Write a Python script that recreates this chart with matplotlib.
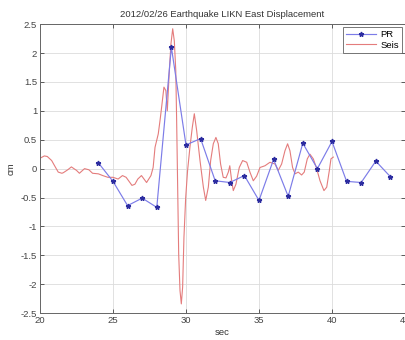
import matplotlib

matplotlib.use("Agg")
import matplotlib.pyplot as plt
from matplotlib.ticker import FormatStrFormatter, MultipleLocator

# PR displacement, one sample per second
pr_t = [24, 25, 26, 27, 28, 29, 30, 31, 32, 33, 34, 35, 36, 37, 38, 39, 40, 41, 42, 43, 44]
pr_cm = [0.10, -0.22, -0.64, -0.51, -0.67, 2.10, 0.41, 0.52, -0.21, -0.24, -0.12,
         -0.55, 0.16, -0.48, 0.44, 0.00, 0.47, -0.22, -0.24, 0.13, -0.14]

# seismometer-derived displacement
seis_t = [20.0, 20.3, 20.5, 20.8, 21.0, 21.25, 21.5, 21.6, 21.9, 22.15, 22.5, 22.7,
          23.05, 23.35, 23.6, 24.0, 24.3, 24.65, 25.0, 25.35, 25.65, 25.9, 26.1,
          26.3, 26.5, 26.7, 26.95, 27.3, 27.6, 27.75, 27.88, 28.1, 28.22, 28.33,
          28.49, 28.62, 28.72, 28.86, 28.97, 29.09, 29.2, 29.3, 29.36, 29.43, 29.5,
          29.59, 29.68, 29.77, 29.86, 29.98, 30.11, 30.27, 30.43, 30.57, 30.73,
          30.96, 31.19, 31.35, 31.53, 31.69, 31.87, 32.05, 32.21, 32.37, 32.55,
          32.74, 32.9, 33.0, 33.13, 33.24, 33.42, 33.65, 33.88, 34.16, 34.38,
          34.61, 34.84, 35.07, 35.41, 35.75, 36.1, 36.32, 36.55, 36.78, 36.96,
          37.12, 37.3, 37.47, 37.69, 37.92, 38.1, 38.31, 38.49, 38.72, 38.95,
          39.18, 39.45, 39.64, 39.82, 39.93, 40.09]
seis_cm = [0.18, 0.22, 0.21, 0.14, 0.05, -0.06, -0.08, -0.07, -0.02, 0.03, -0.03,
           -0.08, 0.00, -0.02, -0.08, -0.09, -0.12, -0.15, -0.15, -0.18, -0.12,
           -0.15, -0.22, -0.29, -0.27, -0.18, -0.12, -0.24, -0.12, 0.02, 0.37,
           0.60, 0.83, 1.06, 1.41, 1.35, 1.00, 1.70, 2.16, 2.42, 2.21, 1.70, 0.83,
           -0.32, -1.48, -2.11, -2.34, -2.05, -1.19, -0.50, -0.03, 0.37, 0.71,
           0.95, 0.66, 0.14, -0.32, -0.55, -0.32, 0.14, 0.43, 0.54, 0.43, 0.08,
           -0.15, -0.16, -0.06, 0.05, -0.21, -0.38, -0.27, 0.02, 0.14, 0.11, -0.06,
           -0.21, -0.13, 0.02, 0.05, 0.11, 0.08, -0.03, 0.08, 0.31, 0.43, 0.31,
           0.02, -0.09, -0.06, -0.11, -0.06, 0.17, 0.25, 0.17, 0.00, -0.21, -0.38,
           -0.32, -0.03, 0.17, 0.20]

plt.rcParams["font.family"] = ["Liberation Sans", "DejaVu Sans"]

fig = plt.figure(figsize=(4.06, 3.40), dpi=100)
ax = fig.add_axes([0.0985, 0.079, 0.899, 0.850])

ax.plot(pr_t, pr_cm, color="#7c7ce8", linewidth=0.85, marker="*",
        markersize=3.5, markerfacecolor="#2c2ca0", markeredgecolor="#2c2ca0",
        label="PR", zorder=3)
ax.plot(seis_t, seis_cm, color="#e47c7c", linewidth=0.8, label="Seis", zorder=2)

ax.set_xlim(20, 45)
ax.set_ylim(-2.5, 2.5)
ax.xaxis.set_major_locator(MultipleLocator(5))
ax.yaxis.set_major_locator(MultipleLocator(0.5))
ax.yaxis.set_major_formatter(FormatStrFormatter("%g"))
ax.grid(True, color="#dcdcdc", linewidth=0.6, linestyle="-")
ax.tick_params(direction="in", length=3, width=0.6, labelsize=6.8,
               top=True, right=True, colors="#444444", pad=2)
for spine in ax.spines.values():
    spine.set_color("#666666")
    spine.set_linewidth(0.7)

ax.set_title("2012/02/26 Earthquake LIKN East Displacement",
             fontsize=6.8, color="#333333", pad=5)
ax.set_xlabel("sec", fontsize=6.8, color="#333333", labelpad=2)
ax.set_ylabel("cm", fontsize=6.8, color="#333333", labelpad=4)

leg = ax.legend(loc="upper right", fontsize=6.8, frameon=True, fancybox=False,
                borderaxespad=0.3, handlelength=3.2, borderpad=0.3,
                labelspacing=0.2, handletextpad=0.5)
leg.get_frame().set_edgecolor("#555555")
leg.get_frame().set_linewidth(0.7)

fig.savefig("out.png", dpi=100)
